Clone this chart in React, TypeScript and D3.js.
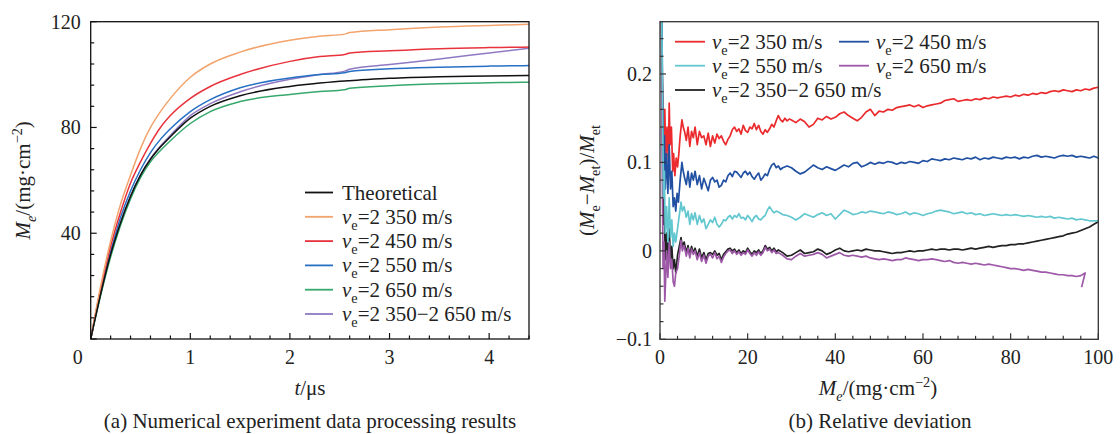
import { useEffect, useRef } from 'react'
import * as d3 from 'd3'

const FONT = '"Liberation Serif", "Times New Roman", serif'

// ---- panel (a): mass vs time ----
const T_US = [0, 0.1, 0.2, 0.3, 0.4, 0.5, 0.6, 0.7, 0.8, 1.0, 1.2, 1.5, 2.0, 2.3, 2.55, 2.6, 3.0, 3.5, 4.0, 4.4]
const M_THEORY = [0, 17, 32, 44, 54, 62, 68, 72.6, 76.5, 83.5, 88, 92, 95.5, 96.8, 97.6, 97.7, 98.6, 99.2, 99.5, 99.7]
const M_2350 = [0, 20, 37, 51, 62, 72, 80, 86, 91, 99, 104, 108.5, 113, 114.5, 115.3, 115.9, 117, 118, 118.6, 119]
const M_2450 = [0, 19, 35, 48, 59, 67, 74, 80, 84.5, 91, 95.5, 100, 105, 106.8, 107.6, 108.2, 109, 109.8, 110.2, 110.4]
const M_2550 = [0, 18, 33, 46, 56, 64, 70.5, 75.5, 79.5, 86, 90.5, 95, 98.7, 100, 100.7, 101.2, 102.2, 102.8, 103.2, 103.4]
const M_2650 = [0, 16.5, 31, 43, 53, 61, 67, 71.3, 75, 81.5, 86, 89.8, 92.5, 93.6, 94.3, 94.8, 95.8, 96.5, 96.9, 97.1]
const M_MIX = [0, 17, 32, 44, 54, 62, 68.2, 73, 77, 84.5, 89, 93.5, 98.2, 100, 101.3, 102, 103.8, 105.9, 108.2, 110]

const LEFT_LABELS = ['Theoretical', '2 350 m/s', '2 450 m/s', '2 550 m/s', '2 650 m/s', '2 350−2 650 m/s']
const LEFT_COLORS = ['#111111', '#f3a36c', '#e8333d', '#2770c4', '#36a86c', '#9079c4']

// ---- panel (b): relative deviation vs mass ----
const DEV_2350 = [[0.3,0.27],[0.5,0.2],[0.7,0.15],[0.9,0.12],[1.1,0.16],[1.3,0.1],[1.6,0.14],[1.9,0.1],[2.1,0.167],[2.3,0.12],[2.6,0.14],[2.9,0.09],[3.1,0.11],[3.4,0.085],[3.7,0.105],[4.0,0.095],[4.3,0.11],[4.6,0.13],[5.0,0.148],[5.3,0.14],[5.6,0.135],[6.0,0.125],[6.4,0.14],[6.8,0.118],[7.2,0.135],[7.6,0.128],[8.0,0.14],[8.5,0.12],[9.0,0.135],[9.5,0.128],[10,0.13],[10.5,0.12],[11,0.133],[11.5,0.118],[12,0.13],[12.5,0.122],[13,0.132],[13.5,0.127],[14,0.13],[14.5,0.124],[15,0.12],[15.5,0.126],[16,0.13],[16.5,0.137],[17,0.14],[17.5,0.135],[18,0.138],[18.5,0.132],[19,0.142],[19.5,0.136],[20,0.134],[20.5,0.14],[21,0.138],[21.5,0.144],[22,0.137],[22.5,0.142],[23,0.135],[23.5,0.132],[24,0.137],[24.5,0.134],[25,0.138],[25.5,0.143],[26,0.14],[26.5,0.147],[27,0.153],[27.5,0.148],[28,0.146],[28.5,0.15],[29,0.147],[29.5,0.149],[30,0.148],[31,0.145],[32,0.149],[33,0.146],[34,0.14],[35,0.143],[36,0.15],[37,0.148],[38,0.152],[39,0.149],[40,0.151],[41,0.155],[42,0.157],[43,0.153],[44,0.15],[45,0.147],[46,0.151],[47,0.157],[48,0.16],[49,0.153],[50,0.158],[51,0.157],[52,0.16],[53,0.159],[54,0.162],[55,0.163],[56,0.164],[57,0.165],[58,0.163],[59,0.165],[60,0.162],[61,0.164],[62,0.165],[63,0.166],[64,0.167],[65,0.17],[66,0.171],[67,0.172],[68,0.169],[69,0.17],[70,0.171],[71,0.17],[72,0.172],[73,0.171],[74,0.173],[75,0.172],[76,0.174],[77,0.173],[78,0.174],[79,0.175],[80,0.174],[81,0.176],[82,0.175],[83,0.177],[84,0.176],[85,0.178],[86,0.177],[87,0.179],[88,0.178],[89,0.18],[90,0.181],[91,0.18],[92,0.182],[93,0.181],[94,0.18],[95,0.182],[96,0.181],[97,0.183],[98,0.182],[99,0.184],[100,0.185]]
const DEV_2450 = [[0.4,0.27],[0.6,0.18],[0.8,0.1],[1.0,0.13],[1.2,0.07],[1.5,0.11],[1.8,0.065],[2.1,0.12],[2.4,0.07],[2.7,0.09],[3.0,0.05],[3.3,0.06],[3.6,0.045],[3.9,0.065],[4.2,0.055],[4.6,0.08],[5.0,0.1],[5.3,0.09],[5.6,0.083],[6.0,0.075],[6.4,0.09],[6.8,0.072],[7.2,0.088],[7.6,0.08],[8.0,0.09],[8.5,0.075],[9.0,0.085],[9.5,0.07],[10,0.082],[10.5,0.075],[11,0.068],[11.5,0.08],[12,0.083],[12.5,0.078],[13,0.08],[13.5,0.072],[14,0.074],[14.5,0.08],[15,0.078],[15.5,0.085],[16,0.088],[16.5,0.084],[17,0.09],[17.5,0.089],[18,0.086],[18.5,0.083],[19,0.088],[19.5,0.09],[20,0.086],[20.5,0.089],[21,0.084],[21.5,0.081],[22,0.085],[22.5,0.088],[23,0.08],[23.5,0.083],[24,0.087],[24.5,0.085],[25,0.092],[25.5,0.097],[26,0.099],[26.5,0.094],[27,0.096],[27.5,0.092],[28,0.094],[29,0.096],[30,0.094],[31,0.09],[32,0.087],[33,0.089],[34,0.093],[35,0.097],[36,0.094],[37,0.092],[38,0.095],[39,0.093],[40,0.091],[41,0.094],[42,0.097],[43,0.095],[44,0.099],[45,0.1],[46,0.095],[47,0.097],[48,0.1],[49,0.098],[50,0.1],[51,0.099],[52,0.101],[53,0.1],[54,0.098],[55,0.1],[56,0.099],[57,0.101],[58,0.1],[59,0.099],[60,0.102],[61,0.101],[62,0.104],[63,0.103],[64,0.102],[65,0.104],[66,0.103],[67,0.105],[68,0.104],[69,0.103],[70,0.105],[71,0.104],[72,0.106],[73,0.103],[74,0.105],[75,0.104],[76,0.106],[77,0.105],[78,0.104],[79,0.106],[80,0.105],[81,0.106],[82,0.104],[83,0.106],[84,0.105],[85,0.107],[86,0.108],[87,0.106],[88,0.107],[89,0.106],[90,0.105],[91,0.107],[92,0.108],[93,0.107],[94,0.108],[95,0.106],[96,0.107],[97,0.106],[98,0.105],[99,0.107],[100,0.105]]
const DEV_2550 = [[0.4,0.27],[0.6,0.15],[0.8,0.06],[1.0,0.09],[1.2,0.02],[1.5,0.05],[1.8,0.01],[2.1,0.06],[2.4,0.015],[2.7,0.035],[3.0,0.005],[3.3,0.02],[3.6,0.01],[4.0,0.025],[4.4,0.04],[4.8,0.055],[5.1,0.045],[5.5,0.05],[6.0,0.038],[6.4,0.045],[6.8,0.03],[7.2,0.042],[7.6,0.035],[8.0,0.043],[8.5,0.03],[9.0,0.04],[9.5,0.032],[10,0.036],[10.5,0.025],[11,0.03],[11.5,0.035],[12,0.032],[12.5,0.038],[13,0.03],[13.5,0.027],[14,0.03],[14.5,0.035],[15,0.034],[15.5,0.038],[16,0.04],[16.5,0.036],[17,0.04],[17.5,0.038],[18,0.042],[18.5,0.037],[19,0.038],[19.5,0.035],[20,0.04],[20.5,0.037],[21,0.033],[21.5,0.038],[22,0.04],[22.5,0.036],[23,0.035],[23.5,0.038],[24,0.04],[24.5,0.046],[25,0.05],[25.5,0.046],[26,0.043],[26.5,0.045],[27,0.044],[28,0.041],[29,0.04],[30,0.038],[31,0.035],[32,0.038],[33,0.042],[34,0.04],[35,0.038],[36,0.041],[37,0.043],[38,0.04],[39,0.042],[40,0.036],[41,0.041],[42,0.046],[43,0.044],[44,0.041],[45,0.042],[46,0.044],[47,0.043],[48,0.045],[49,0.044],[50,0.043],[51,0.042],[52,0.044],[53,0.043],[54,0.041],[55,0.042],[56,0.044],[57,0.041],[58,0.043],[59,0.042],[60,0.04],[61,0.042],[62,0.043],[63,0.045],[64,0.046],[65,0.045],[66,0.044],[67,0.042],[68,0.043],[69,0.044],[70,0.042],[71,0.043],[72,0.041],[73,0.042],[74,0.04],[75,0.041],[76,0.042],[77,0.041],[78,0.04],[79,0.041],[80,0.04],[81,0.041],[82,0.04],[83,0.039],[84,0.04],[85,0.039],[86,0.038],[87,0.039],[88,0.038],[89,0.039],[90,0.037],[91,0.038],[92,0.037],[93,0.036],[94,0.037],[95,0.035],[96,0.036],[97,0.035],[98,0.034],[99,0.034],[100,0.034]]
const DEV_MIX = [[0.4,0.27],[0.6,0.12],[0.8,0.03],[1.0,0.05],[1.2,-0.01],[1.5,0.02],[1.8,-0.015],[2.1,0.025],[2.4,-0.01],[2.7,0.005],[3.0,-0.02],[3.3,-0.01],[3.6,-0.025],[4.0,-0.005],[4.4,0.005],[4.8,0.015],[5.1,0.005],[5.5,0.01],[6.0,-0.002],[6.4,0.006],[6.8,-0.005],[7.2,0.005],[7.6,-0.002],[8.0,0.003],[8.5,-0.006],[9.0,0.002],[9.5,-0.008],[10,-0.002],[10.5,-0.01],[11,-0.003],[11.5,-0.002],[12,-0.004],[12.5,0.0],[13,-0.005],[13.5,-0.003],[14,-0.01],[14.5,-0.004],[15,-0.001],[15.5,0.002],[16,0.003],[16.5,0.0],[17,0.002],[17.5,-0.002],[18,0.001],[18.5,-0.003],[19,0.0],[19.5,-0.002],[20,0.003],[20.5,-0.001],[21,-0.004],[21.5,0.0],[22,-0.002],[22.5,0.001],[23,-0.003],[23.5,0.0],[24,0.006],[24.5,0.002],[25,0.004],[25.5,0.0],[26,0.003],[26.5,-0.001],[27,0.001],[28,-0.002],[29,-0.006],[30,-0.005],[31,-0.002],[32,0.001],[33,-0.003],[34,-0.002],[35,-0.001],[36,0.002],[37,0.0],[38,-0.004],[39,-0.002],[40,0.001],[41,0.003],[42,0.0],[43,-0.001],[44,0.0],[45,0.001],[46,0.0],[47,0.002],[48,0.001],[49,0.0],[50,0.0],[51,-0.001],[52,-0.002],[53,-0.003],[54,-0.002],[55,-0.002],[56,-0.001],[57,0.0],[58,-0.001],[59,0.0],[60,0.0],[61,0.001],[62,0.002],[63,0.001],[64,0.002],[65,0.002],[66,0.001],[67,0.002],[68,0.002],[69,0.001],[70,0.002],[71,0.003],[72,0.002],[73,0.003],[74,0.004],[75,0.005],[76,0.004],[77,0.005],[78,0.006],[79,0.006],[80,0.007],[81,0.007],[82,0.008],[83,0.008],[84,0.009],[85,0.01],[86,0.011],[87,0.012],[88,0.013],[89,0.014],[90,0.015],[91,0.016],[92,0.017],[93,0.019],[94,0.02],[95,0.021],[96,0.023],[97,0.025],[98,0.027],[99,0.03],[100,0.033]]
const DEV_2650 = [[0.3,0.27],[0.5,0.1],[0.7,-0.02],[0.9,0.01],[1.1,-0.057],[1.3,-0.03],[1.5,0.0],[1.8,-0.03],[2.1,0.01],[2.4,-0.02],[2.7,-0.01],[3.0,-0.035],[3.3,-0.04],[3.6,-0.025],[4.0,-0.02],[4.4,-0.005],[4.8,0.012],[5.1,0.0],[5.5,0.006],[6.0,-0.006],[6.4,0.003],[6.8,-0.008],[7.2,0.002],[7.6,-0.004],[8.0,0.0],[8.5,-0.01],[9.0,-0.002],[9.5,-0.012],[10,-0.005],[10.5,-0.014],[11,-0.006],[11.5,-0.004],[12,-0.008],[12.5,-0.002],[13,-0.009],[13.5,-0.006],[14,-0.013],[14.5,-0.007],[15,-0.003],[15.5,0.0],[16,0.001],[16.5,-0.003],[17,0.0],[17.5,-0.004],[18,-0.001],[18.5,-0.005],[19,-0.002],[19.5,-0.004],[20,0.001],[20.5,-0.003],[21,-0.006],[21.5,-0.002],[22,-0.005],[22.5,-0.001],[23,-0.005],[23.5,-0.002],[24,0.004],[24.5,0.0],[25,0.002],[25.5,-0.002],[26,0.001],[26.5,-0.003],[27,-0.002],[28,-0.005],[29,-0.009],[30,-0.01],[31,-0.006],[32,-0.003],[33,-0.006],[34,-0.005],[35,-0.004],[36,-0.002],[37,-0.004],[38,-0.008],[39,-0.006],[40,-0.004],[41,-0.002],[42,-0.005],[43,-0.006],[44,-0.005],[45,-0.006],[46,-0.007],[47,-0.006],[48,-0.008],[49,-0.009],[50,-0.01],[51,-0.009],[52,-0.01],[53,-0.011],[54,-0.01],[55,-0.01],[56,-0.008],[57,-0.009],[58,-0.01],[59,-0.011],[60,-0.01],[61,-0.01],[62,-0.009],[63,-0.01],[64,-0.011],[65,-0.012],[66,-0.011],[67,-0.013],[68,-0.014],[69,-0.013],[70,-0.014],[71,-0.015],[72,-0.014],[73,-0.015],[74,-0.016],[75,-0.015],[76,-0.016],[77,-0.017],[78,-0.018],[79,-0.019],[80,-0.02],[81,-0.02],[82,-0.021],[83,-0.022],[84,-0.021],[85,-0.022],[86,-0.023],[87,-0.024],[88,-0.024],[89,-0.025],[90,-0.026],[91,-0.027],[92,-0.027],[93,-0.028],[94,-0.028],[95,-0.029],[96,-0.028],[97,-0.025],[96.2,-0.041]]

const RIGHT_LABELS = ['2 350 m/s', '2 450 m/s', '2 550 m/s', '2 650 m/s', '2 350−2 650 m/s']
const RIGHT_COLORS = ['#ea2a2c', '#2150a2', '#63c7d0', '#9e58a8', '#222222']

type Part = { t: string, i?: boolean, sub?: boolean, sup?: boolean }

// appends tspans with italic / sub / superscript pieces
function rich(sel: any, parts: Part[], size: number) {
  let shift = 0
  parts.forEach(p => {
    const target = p.sub ? size * 0.28 : p.sup ? -size * 0.4 : 0
    const ts = sel.append('tspan').attr('dy', target - shift).text(p.t)
    shift = target
    if (p.i) ts.style('font-style', 'italic')
    if (p.sub || p.sup) ts.style('font-size', `${size * 0.68}px`)
  })
}

const vLabel = (s: string): Part[] => [{ t: 'v', i: true }, { t: 'e', sub: true }, { t: '=' + s }]

export default function App() {
  const ref = useRef<SVGSVGElement>(null)

  useEffect(() => {
    document.body.style.margin = '0'
    const svg = d3.select(ref.current)
    svg.selectAll('*').remove()

    const defs = svg.append('defs')

    // ================= panel (a) =================
    const xA = d3.scaleLinear().domain([0, 4.4]).range([90.7, 529])
    const yA = d3.scaleLinear().domain([0, 120]).range([339, 21.7])

    defs.append('clipPath').attr('id', 'clipA').append('rect')
      .attr('x', xA(0)).attr('y', yA(120)).attr('width', xA(4.4) - xA(0)).attr('height', yA(0) - yA(120))

    const gA = svg.append('g')
    const leftSeries = [M_THEORY, M_2350, M_2450, M_2550, M_2650, M_MIX]
    const lineA = d3.line<number>().x((d, i) => xA(T_US[i])).y(d => yA(d)).curve(d3.curveMonotoneX)
    const drawOrder = [5, 4, 3, 2, 1, 0]
    drawOrder.forEach(k => {
      gA.append('path')
        .attr('d', lineA(leftSeries[k]))
        .attr('fill', 'none')
        .attr('stroke', LEFT_COLORS[k])
        .attr('stroke-width', 1.5)
        .attr('clip-path', 'url(#clipA)')
    })

    // ticks (inside)
    d3.range(0, 4.41, 0.2).forEach(v => {
      const major = Math.abs(v - Math.round(v)) < 1e-6
      gA.append('line').attr('x1', xA(v)).attr('x2', xA(v))
        .attr('y1', yA(0)).attr('y2', yA(0) - (major ? 6 : 3.5))
        .attr('stroke', '#111').attr('stroke-width', 1.2)
    })
    d3.range(0, 121, 8).forEach(v => {
      const major = v % 40 === 0
      gA.append('line').attr('x1', xA(0)).attr('x2', xA(0) + (major ? 6 : 3.5))
        .attr('y1', yA(v)).attr('y2', yA(v))
        .attr('stroke', '#111').attr('stroke-width', 1.2)
    })
    gA.append('rect')
      .attr('x', xA(0)).attr('y', yA(120)).attr('width', xA(4.4) - xA(0)).attr('height', yA(0) - yA(120))
      .attr('fill', 'none').attr('stroke', '#111').attr('stroke-width', 1.3)

    const tickFont = (s: any) => s.style('font-family', FONT).style('font-size', '20px').attr('fill', '#222')
    ;[1, 2, 3, 4].forEach(v => {
      gA.append('text').attr('x', xA(v)).attr('y', yA(0) + 25).attr('text-anchor', 'middle').call(tickFont).text(v)
    })
    ;[40, 80, 120].forEach(v => {
      gA.append('text').attr('x', xA(0) - 10).attr('y', yA(v) + 7).attr('text-anchor', 'end').call(tickFont).text(v)
    })
    gA.append('text').attr('x', xA(0) - 13).attr('y', yA(0) + 25).attr('text-anchor', 'middle').call(tickFont).text('0')

    const axisFont = (s: any) => s.style('font-family', FONT).style('font-size', '21px').attr('fill', '#222')
    rich(gA.append('text').attr('x', 310).attr('y', 395).attr('text-anchor', 'middle').call(axisFont),
      [{ t: 't', i: true }, { t: '/μs' }], 21)
    rich(gA.append('text').attr('transform', `translate(30,${(yA(0) + yA(120)) / 2}) rotate(-90)`)
      .attr('text-anchor', 'middle').call(axisFont),
      [{ t: 'M', i: true }, { t: 'e', sub: true, i: true }, { t: '/(mg·cm' }, { t: '−2', sup: true }, { t: ')' }], 21)
    gA.append('text').attr('x', 310).attr('y', 428).attr('text-anchor', 'middle').call(axisFont)
      .text('(a) Numerical experiment data processing results')

    // legend (a)
    const legA = gA.append('g')
    LEFT_LABELS.forEach((lab, k) => {
      const y = 192.5 + k * 24.3
      legA.append('line').attr('x1', 305).attr('x2', 333).attr('y1', y).attr('y2', y)
        .attr('stroke', LEFT_COLORS[k]).attr('stroke-width', 1.8)
      const t = legA.append('text').attr('x', 342).attr('y', y + 7).call(axisFont)
      if (k === 0) t.text(lab)
      else rich(t, vLabel(lab), 21)
    })

    // ================= panel (b) =================
    const xB = d3.scaleLinear().domain([0, 100]).range([660, 1098.3])
    const yB = d3.scaleLinear().domain([-0.1, 0.2591]).range([339.3, 21.7])

    defs.append('clipPath').attr('id', 'clipB').append('rect')
      .attr('x', xB(0)).attr('y', yB(0.2591)).attr('width', xB(100) - xB(0)).attr('height', yB(-0.1) - yB(0.2591))

    const gB = svg.append('g')
    const rightSeries = [DEV_2350, DEV_2450, DEV_2550, DEV_2650, DEV_MIX]
    const lineB = d3.line<number[]>().x(d => xB(d[0])).y(d => yB(d[1]))
    const orderB = [4, 3, 0, 1, 2]
    orderB.forEach(k => {
      gB.append('path')
        .attr('d', lineB(rightSeries[k]))
        .attr('fill', 'none')
        .attr('stroke', RIGHT_COLORS[k])
        .attr('stroke-width', 1.7)
        .attr('stroke-linejoin', 'round')
        .attr('clip-path', 'url(#clipB)')
    })

    d3.range(0, 100.1, 4).forEach(v => {
      const major = v % 20 === 0
      gB.append('line').attr('x1', xB(v)).attr('x2', xB(v))
        .attr('y1', yB(-0.1)).attr('y2', yB(-0.1) - (major ? 6 : 3.5))
        .attr('stroke', '#333').attr('stroke-width', 1.2)
    })
    d3.range(-0.1, 0.26, 0.02).forEach(v => {
      const major = Math.abs(v * 10 - Math.round(v * 10)) < 1e-6
      gB.append('line').attr('x1', xB(0)).attr('x2', xB(0) + (major ? 6 : 3.5))
        .attr('y1', yB(v)).attr('y2', yB(v))
        .attr('stroke', '#333').attr('stroke-width', 1.2)
    })
    gB.append('rect')
      .attr('x', xB(0)).attr('y', yB(0.2591)).attr('width', xB(100) - xB(0)).attr('height', yB(-0.1) - yB(0.2591))
      .attr('fill', 'none').attr('stroke', '#333').attr('stroke-width', 1.3)

    ;[0, 20, 40, 60, 80, 100].forEach(v => {
      gB.append('text').attr('x', xB(v)).attr('y', yB(-0.1) + 25).attr('text-anchor', 'middle').call(tickFont).text(v)
    })
    ;[[-0.1, '−0.1'], [0, '0'], [0.1, '0.1'], [0.2, '0.2']].forEach(([v, s]) => {
      gB.append('text').attr('x', xB(0) - 8).attr('y', yB(v as number) + 7).attr('text-anchor', 'end').call(tickFont).text(s as string)
    })

    rich(gB.append('text').attr('x', 878).attr('y', 395).attr('text-anchor', 'middle').call(axisFont),
      [{ t: 'M', i: true }, { t: 'e', sub: true, i: true }, { t: '/(mg·cm' }, { t: '−2', sup: true }, { t: ')' }], 21)
    rich(gB.append('text').attr('transform', `translate(594,${(yB(-0.1) + yB(0.2591)) / 2}) rotate(-90)`)
      .attr('text-anchor', 'middle').call(axisFont),
      [{ t: '(' }, { t: 'M', i: true }, { t: 'e', sub: true }, { t: '−' }, { t: 'M', i: true }, { t: 'et', sub: true },
        { t: ')/' }, { t: 'M', i: true }, { t: 'et', sub: true }], 21)
    gB.append('text').attr('x', 880).attr('y', 428).attr('text-anchor', 'middle').call(axisFont)
      .text('(b) Relative deviation')

    // legend (b), two columns
    const legB = gB.append('g')
    const legPos = [[675, 41.7], [839, 41.7], [675, 65.7], [839, 65.7], [675, 90]]
    RIGHT_LABELS.forEach((lab, k) => {
      const [lx, ly] = legPos[k]
      legB.append('line').attr('x1', lx).attr('x2', lx + 30).attr('y1', ly).attr('y2', ly)
        .attr('stroke', RIGHT_COLORS[k]).attr('stroke-width', 1.8)
      rich(legB.append('text').attr('x', lx + 37).attr('y', ly + 7).call(axisFont), vLabel(lab), 21)
    })
  }, [])

  return (
    <svg ref={ref} width={1120} height={434}
      style={{ position: 'absolute', left: 0, top: 0, background: '#fff' }} />
  )
}
